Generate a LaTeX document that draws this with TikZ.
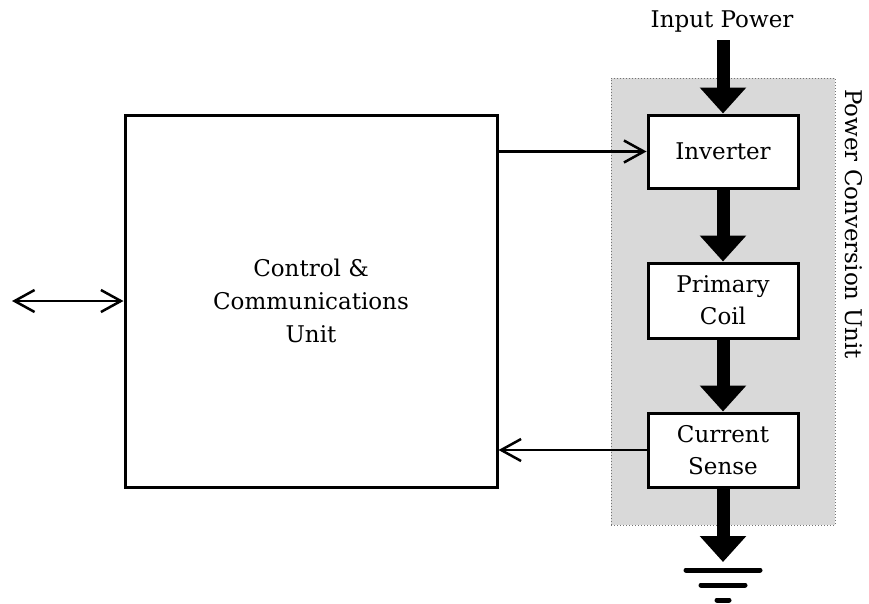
\documentclass[tikz,border=0pt]{standalone}
\usepackage{fontspec}
\setmainfont{DejaVu Serif}
\usetikzlibrary{arrows.meta,positioning,calc}
\tikzset{
  unitbox/.style={draw=black,line width=3pt,fill=white,minimum width=150pt,minimum height=73pt,inner sep=0pt,align=center,font=\fontsize{23}{32}\selectfont},
  bigbox/.style={draw=black,line width=3pt,minimum width=372pt,minimum height=372pt,inner sep=0pt,align=center,font=\fontsize{23}{33}\selectfont},
  lbl/.style={inner sep=0pt,font=\fontsize{23}{28}\selectfont},
  power/.style={line width=13pt,-{Triangle[length=26pt,width=45pt]}},
  sig/.style={line width=2.5pt,-{Straight Barb[length=20pt,width=22pt,line width=2.5pt]}},
  sigboth/.style={line width=2.5pt,{Straight Barb[length=20pt,width=22pt,line width=2.5pt]}-{Straight Barb[length=20pt,width=22pt,line width=2.5pt]}},
  gnd/.style={line width=5pt,line cap=round},
}
\begin{document}
\begin{tikzpicture}[x=1pt,y=-1pt]
\useasboundingbox (0,0) rectangle (869,603);
\fill[white] (0,0) rectangle (869,603);
% grey region
\node[draw=black!55,dotted,line width=1pt,fill=black!15,minimum width=224pt,minimum height=447pt,inner sep=0pt] (pcu) at (723,301.5) {};
\node[lbl,rotate=-90] (pcul) at (854,224) {Power Conversion Unit};
% blocks
\node[bigbox] (ccu) at (311,301) {Control \&\\Communications\\Unit};
\node[unitbox] (inv) at (723,151.5) {Inverter};
\node[unitbox,minimum height=75pt] (coil) at (723,300.5) {Primary\\Coil};
\node[unitbox,minimum height=74pt] (sense) at (723,450) {Current\\Sense};
\node[lbl] (inp) at (722,22) {Input Power};
% coordinates
\coordinate (instart) at (723,40);
\coordinate (gndtop) at (723,562);
\coordinate (ext) at (12,301);
% power flow
\draw[power] (instart) -- (inv.north);
\draw[power] (inv.south) -- (coil.north);
\draw[power] (coil.south) -- (sense.north);
\draw[power] (sense.south) -- (gndtop);
% ground
\coordinate (g1) at (723,570);
\coordinate (g2) at (723,585);
\coordinate (g3) at (723,600);
\draw[gnd] ($(g1)+(-37,0)$) -- ($(g1)+(37,0)$);
\draw[gnd] ($(g2)+(-22,0)$) -- ($(g2)+(22,0)$);
\draw[gnd] ($(g3)+(-6,0)$) -- ($(g3)+(6,0)$);
% signals
\draw[sig] (ccu.east |- inv.west) -- (inv.west);
\draw[sig] (sense.west) -- (ccu.east |- sense.west);
\draw[sigboth] (ext) -- (ccu.west);
\end{tikzpicture}
\end{document}
